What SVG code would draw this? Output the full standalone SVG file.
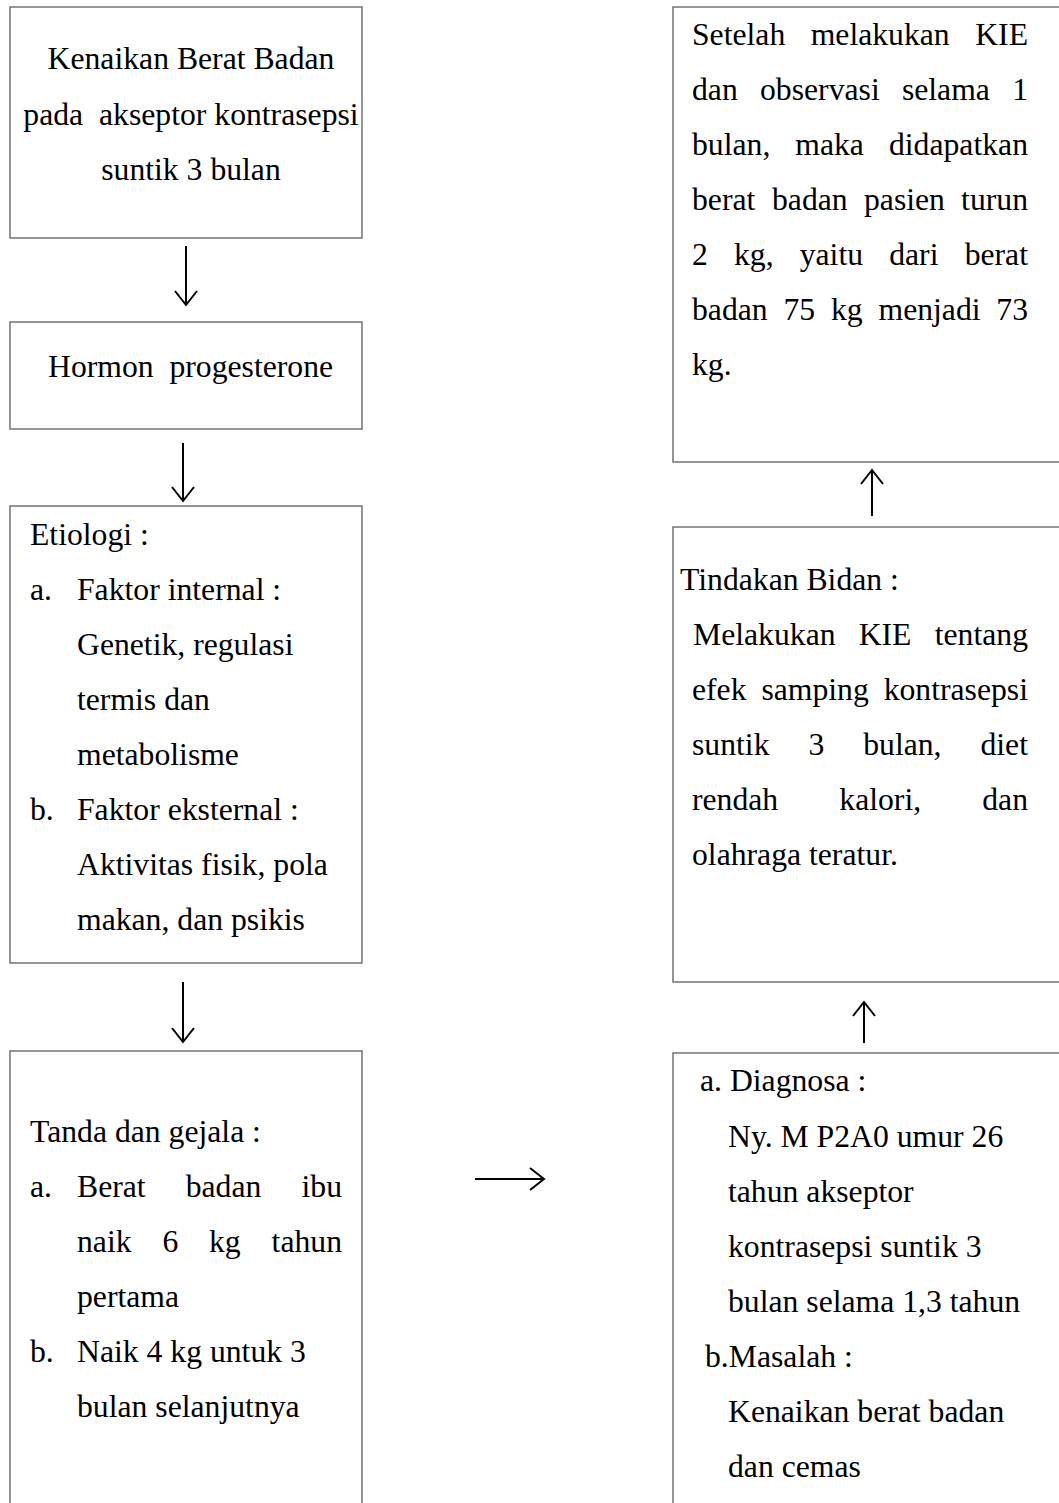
<svg xmlns="http://www.w3.org/2000/svg" width="1059" height="1503" viewBox="0 0 1059 1503">
<style>
  .box { fill: #fff; stroke: #6a6a6a; stroke-width: 1.4; }
  text { font-family: "Liberation Serif", "Times New Roman", serif; font-size: 31.7px; fill: #000; }
  .c { text-anchor: middle; }
  .e { text-anchor: end; }
  .conn { stroke: #000; stroke-width: 2; fill: none; marker-end: url(#ah); }
</style>
<defs>
  <marker id="ah" markerWidth="30" markerHeight="30" refX="15" refY="15" orient="auto" markerUnits="userSpaceOnUse">
    <path d="M1,4 L15,15 L1,26" fill="none" stroke="#000" stroke-width="2"/>
  </marker>
</defs>
<rect width="1059" height="1503" fill="#fff"/>

<g id="node-kenaikan">
  <rect class="box" x="10" y="7" width="352" height="231"/>
  <text class="c" x="191" y="69">Kenaikan Berat Badan</text>
  <text class="c" x="191" y="124.5" xml:space="preserve">pada  akseptor kontrasepsi</text>
  <text class="c" x="191" y="180">suntik 3 bulan</text>
</g>

<g id="node-hormon">
  <rect class="box" x="10" y="322" width="352" height="107"/>
  <text x="48" y="377" xml:space="preserve">Hormon  progesterone</text>
</g>

<g id="node-etiologi">
  <rect class="box" x="10" y="506" width="352" height="457"/>
  <text x="30" y="545">Etiologi :</text>
  <text x="30" y="600">a.</text>
  <text x="77" y="600">Faktor internal :</text>
  <text x="77" y="655">Genetik, regulasi</text>
  <text x="77" y="710">termis dan</text>
  <text x="77" y="765">metabolisme</text>
  <text x="30" y="820">b.</text>
  <text x="77" y="820">Faktor eksternal :</text>
  <text x="77" y="875">Aktivitas fisik, pola</text>
  <text x="77" y="930">makan, dan psikis</text>
</g>

<g id="node-tanda">
  <rect class="box" x="10" y="1051" width="352" height="470"/>
  <text x="30" y="1142">Tanda dan gejala :</text>
  <text x="30" y="1197">a.</text>
  <text x="77" y="1197">Berat</text>
  <text x="185.7" y="1197">badan</text>
  <text class="e" x="342" y="1197">ibu</text>
  <text x="77" y="1252">naik</text>
  <text x="162.4" y="1252">6</text>
  <text x="209" y="1252">kg</text>
  <text class="e" x="342" y="1252">tahun</text>
  <text x="77" y="1307">pertama</text>
  <text x="30" y="1362">b.</text>
  <text x="77" y="1362">Naik 4 kg untuk 3</text>
  <text x="77" y="1417">bulan selanjutnya</text>
</g>

<g id="node-setelah">
  <rect class="box" x="673" y="7" width="400" height="455"/>
  <text x="692" y="45">Setelah</text>
  <text x="810.7" y="45">melakukan</text>
  <text class="e" x="1028" y="45">KIE</text>
  <text x="692" y="100">dan</text>
  <text x="760" y="100">observasi</text>
  <text x="901.9" y="100">selama</text>
  <text class="e" x="1028" y="100">1</text>
  <text x="692" y="155">bulan,</text>
  <text x="795.3" y="155">maka</text>
  <text class="e" x="1028" y="155">didapatkan</text>
  <text x="692" y="210">berat</text>
  <text x="772" y="210">badan</text>
  <text x="864" y="210">pasien</text>
  <text class="e" x="1028" y="210">turun</text>
  <text x="692" y="265">2</text>
  <text x="734" y="265">kg,</text>
  <text x="799.7" y="265">yaitu</text>
  <text x="889.2" y="265">dari</text>
  <text class="e" x="1028" y="265">berat</text>
  <text x="692" y="320">badan</text>
  <text x="783.5" y="320">75</text>
  <text x="831" y="320">kg</text>
  <text x="878.5" y="320">menjadi</text>
  <text class="e" x="1028" y="320">73</text>
  <text x="692" y="375">kg.</text>
</g>

<g id="node-tindakan">
  <rect class="box" x="673" y="527" width="400" height="455"/>
  <text x="680" y="590">Tindakan Bidan :</text>
  <text x="693" y="645">Melakukan</text>
  <text x="858.7" y="645">KIE</text>
  <text class="e" x="1028" y="645">tentang</text>
  <text x="692" y="700">efek</text>
  <text x="761.4" y="700">samping</text>
  <text class="e" x="1028" y="700">kontrasepsi</text>
  <text x="692" y="755">suntik</text>
  <text x="808.4" y="755">3</text>
  <text x="863.2" y="755">bulan,</text>
  <text class="e" x="1028" y="755">diet</text>
  <text x="692" y="810">rendah</text>
  <text x="839.3" y="810">kalori,</text>
  <text class="e" x="1028" y="810">dan</text>
  <text x="692" y="865">olahraga teratur.</text>
</g>

<g id="node-diagnosa">
  <rect class="box" x="673" y="1053" width="400" height="470"/>
  <text x="700" y="1091">a. Diagnosa :</text>
  <text x="728" y="1147">Ny. M P2A0 umur 26</text>
  <text x="728" y="1202">tahun akseptor</text>
  <text x="728" y="1257">kontrasepsi suntik 3</text>
  <text x="728" y="1312">bulan selama 1,3 tahun</text>
  <text x="705" y="1367">b.Masalah :</text>
  <text x="728" y="1422">Kenaikan berat badan</text>
  <text x="728" y="1477">dan cemas</text>
</g>

<g id="connectors">
  <line class="conn" x1="186" y1="246" x2="186" y2="305"/>
  <line class="conn" x1="183" y1="443" x2="183" y2="501"/>
  <line class="conn" x1="183" y1="982" x2="183" y2="1042"/>
  <line class="conn" x1="475" y1="1179" x2="544" y2="1179"/>
  <line class="conn" x1="864" y1="1043" x2="864" y2="1002"/>
  <line class="conn" x1="872" y1="516" x2="872" y2="470"/>
</g>
</svg>
